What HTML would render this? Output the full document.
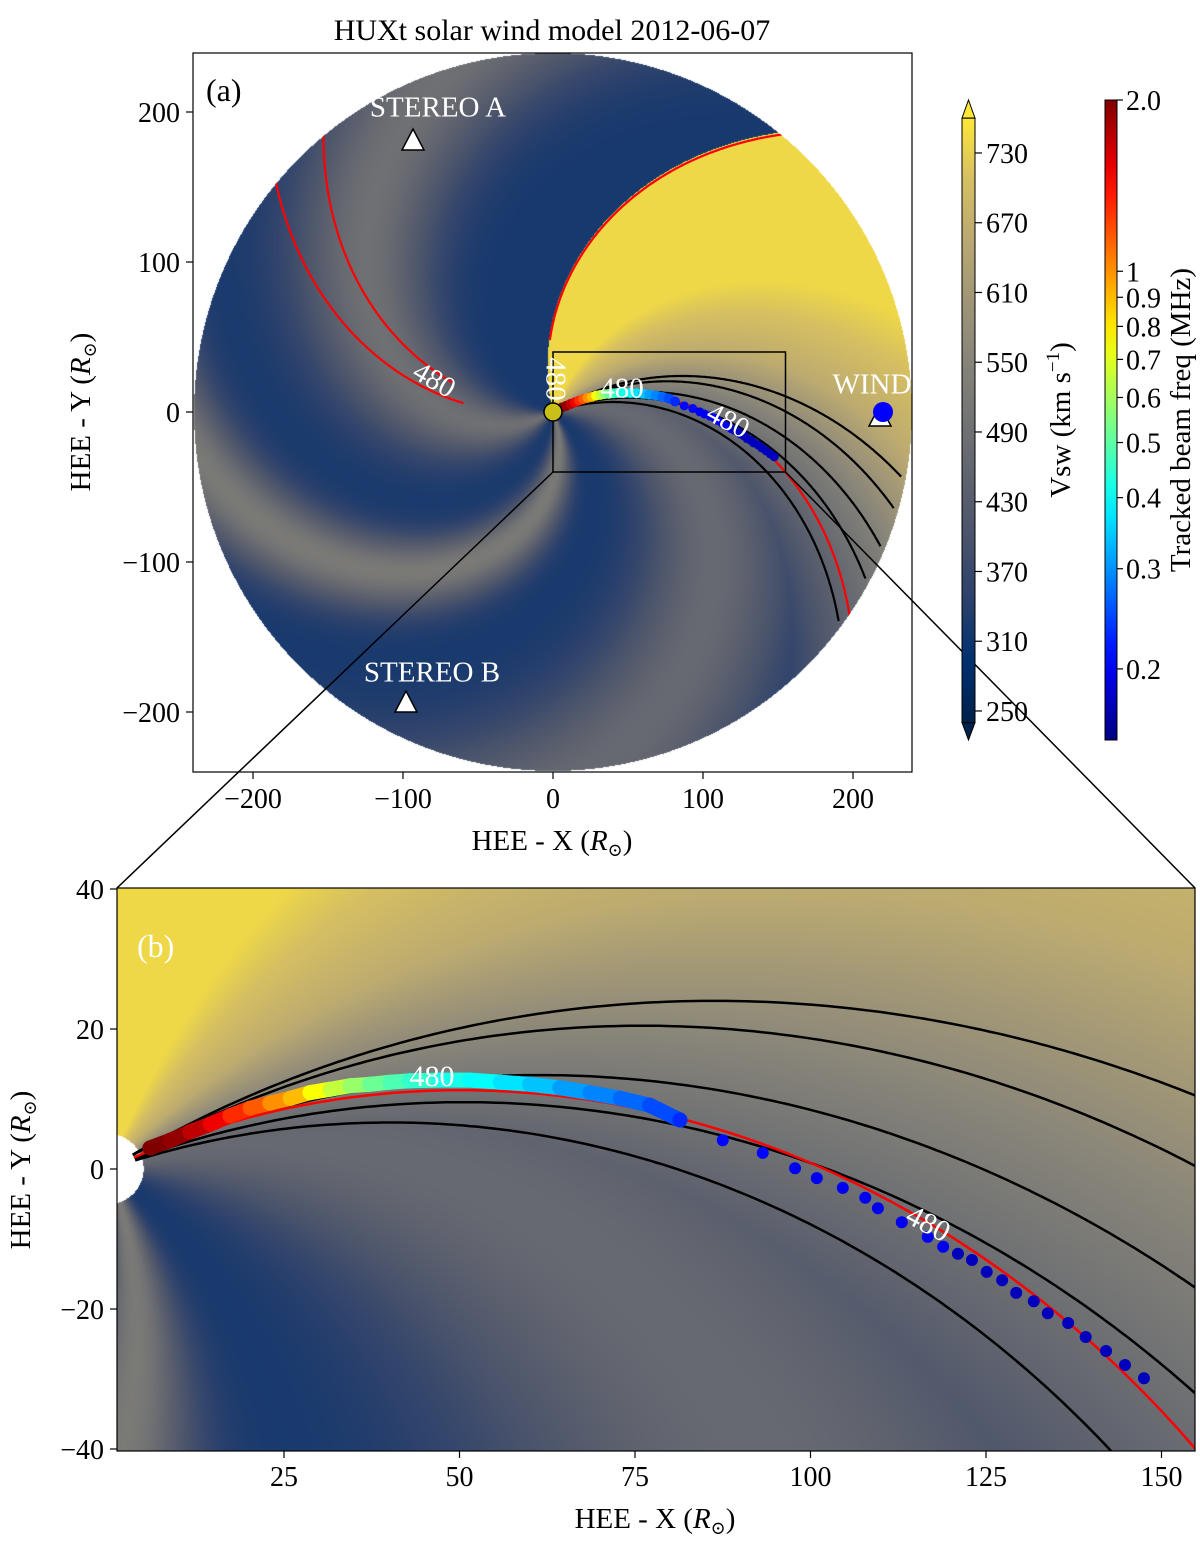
<!DOCTYPE html>
<html><head><meta charset="utf-8">
<style>
html,body{margin:0;padding:0;background:#fff;overflow:hidden;width:1200px;height:1560px;}
#wrap{position:relative;width:1200px;height:1560px;overflow:hidden;font-family:"Liberation Serif",serif;}
canvas{position:absolute;}
svg{position:absolute;left:0;top:0;}
text{font-family:"Liberation Serif","DejaVu Serif",serif;}
</style></head>
<body>
<div id="wrap">
<canvas id="c1" width="720" height="720" style="left:193px;top:53px"></canvas>
<canvas id="c2" width="1078" height="563" style="left:117px;top:888px"></canvas>
<svg id="s" width="1200" height="1560" xmlns="http://www.w3.org/2000/svg">
<defs>
<clipPath id="circ"><circle cx="553" cy="412" r="359"/></clipPath>
<clipPath id="box2"><rect x="117" y="888" width="1078" height="563"/></clipPath>
<linearGradient id="g1" x1="0" y1="1" x2="0" y2="0"></linearGradient>
<linearGradient id="g2" x1="0" y1="1" x2="0" y2="0"></linearGradient>
</defs>
<g id="topPanel"></g>
<g id="botPanel"></g>
<g id="cb"></g>
</svg>
</div>
<script>
// ---------- data ----------
const xTicksTop=[-200,-100,0,100,200];
const yTicksTop=[200,100,0,-100,-200];
const xTicksBot=[25,50,75,100,125,150];
const yTicksBot=[40,20,0,-20,-40];
const speedTicks=[730,670,610,550,490,430,370,310,250];
const freqTicks=[2.0,1,0.9,0.8,0.7,0.6,0.5,0.4,0.3,0.2];
const freqTickLabels=["2.0","1","0.9","0.8","0.7","0.6","0.5","0.4","0.3","0.2"];
const blackPhi0=[31.5,30.5,24.9,21.5,18.9];
const blackK=[0.178,0.196,0.2,0.21,0.2335];
const redPhi0=[25.5,103,185.7,177.6];
const redK=[0.25,0.219,0.189,0.2];
const redRmin=[4,48,60,70];
const redRmax=[240,240,240,240];
const beamX=[5.9,8.8,11.6,14.5,17.3,20.2,23.0,25.9,28.7,31.6,34.4,37.2,40.1,42.9,47.2,51.5,55.8,60.0,64.3,68.6,72.9,77.1,81.4,87.5,93.2,97.8,100.9,104.6,107.8,109.6,113.0,116.7,118.9,121.0,123.0,125.1,127.3,129.3,131.8,133.8,136.7,139.2,142.1,144.8,147.5];
const beamY=[3.0,4.1,5.3,6.4,7.6,8.7,9.4,10.1,10.9,11.4,11.9,12.1,12.4,12.6,12.7,12.7,12.4,12.1,11.6,10.9,10.1,9.1,7.0,4.1,2.3,0.1,-1.3,-2.7,-4.1,-5.6,-7.6,-9.7,-11.1,-12.1,-13.0,-14.7,-15.9,-17.7,-18.9,-20.6,-22.0,-24.0,-26.0,-28.0,-29.9];
const beamF=[2.0,1.9,1.7,1.5,1.3,1.15,1.0,0.9,0.75,0.65,0.58,0.52,0.48,0.45,0.42,0.40,0.37,0.34,0.31,0.29,0.27,0.25,0.23,0.21,0.21,0.2,0.2,0.2,0.2,0.2,0.2,0.2,0.2,0.175,0.175,0.175,0.175,0.175,0.175,0.175,0.175,0.175,0.175,0.175,0.175];
const DENSE=23;
const fastLon=[0,15,30,45,68,103];
const fastV=[330,440,545,660,740,740];
const slowCenters=[210,290,20];
const slowWidths=[18,10,20];
const slowAmps=[170,200,150];

// ---------- scales ----------
const X1=x=>553+1.5*x, Y1=y=>412-1.5*y;
const X2=x=>108.5+7.02*x, Y2=y=>1169-7.0*y;
const VMIN=240,VMAX=760;
const Yc1=v=>722.6-(v-VMIN)*1.1625;
const FMIN=0.15,FMAX=2.0;
const Yc2=f=>740-(Math.log(f)-Math.log(FMIN))/(Math.log(FMAX)-Math.log(FMIN))*640;

const cstops=[[0,0,32,77],[0.1,0,48,111],[0.2,42,64,108],[0.3,72,82,107],[0.4,94,98,110],[0.5,114,115,116],[0.6,135,132,121],[0.7,160,150,119],[0.8,186,169,113],[0.9,214,191,98],[1,253,231,55]];
function cividis(t){t=Math.max(0,Math.min(1,t));for(let i=1;i<cstops.length;i++){if(t<=cstops[i][0]){const a=cstops[i-1],b=cstops[i],u=(t-a[0])/(b[0]-a[0]);return [a[1]+(b[1]-a[1])*u,a[2]+(b[2]-a[2])*u,a[3]+(b[3]-a[3])*u];}}return cstops[cstops.length-1].slice(1);}
function jet(t){const c=v=>Math.max(0,Math.min(1,v));return [c(1.5-Math.abs(4*t-3))*255,c(1.5-Math.abs(4*t-2))*255,c(1.5-Math.abs(4*t-1))*255];}
const fnorm=f=>(Math.log(f)-Math.log(FMIN))/(Math.log(FMAX)-Math.log(FMIN));
const rgb=a=>`rgb(${a.map(v=>Math.round(v)).join(',')})`;

function angWrap(a){a=((a%360)+360)%360;return a>180?a-360:a;}
function speed(x,y){
  const r=Math.hypot(x,y), phi=Math.atan2(y,x)*180/Math.PI;
  const psi=phi+0.43*r;
  let s=320;
  for(let i=0;i<slowCenters.length;i++){const d=angWrap(psi-slowCenters[i]);s+=slowAmps[i]*Math.exp(-0.5*(d/slowWidths[i])**2);}
  let p0=angWrap(phi+0.219*r), f=0;
  if(p0>=fastLon[0]&&p0<=fastLon[fastLon.length-1]+0.5){
    f=fastV[fastV.length-1];
    for(let i=1;i<fastLon.length;i++){if(p0<=fastLon[i]){const u=(p0-fastLon[i-1])/(fastLon[i]-fastLon[i-1]);f=fastV[i-1]+(fastV[i]-fastV[i-1])*u;break;}}
  }
  return Math.max(s,f);
}
function paint(id,w,h,toData,inside){
  const cv=document.getElementById(id),ctx=cv.getContext('2d'),img=ctx.createImageData(w,h),d=img.data;
  for(let j=0;j<h;j++)for(let i=0;i<w;i++){
    const p=toData(i+0.5,j+0.5);const k=(j*w+i)*4;
    if(!inside(p[0],p[1])){d[k]=255;d[k+1]=255;d[k+2]=255;d[k+3]=255;continue;}
    const c=cividis((speed(p[0],p[1])-VMIN)/(VMAX-VMIN));
    d[k]=c[0];d[k+1]=c[1];d[k+2]=c[2];d[k+3]=255;
  }
  ctx.putImageData(img,0,0);
}
paint('c1',720,720,(i,j)=>[(i+193-553)/1.5,(412-(j+53))/1.5],(x,y)=>Math.hypot(x,y)<=239.3);
paint('c2',1078,563,(i,j)=>[(i+117-108.5)/7.02,(1169-(j+888))/7.0],(x,y)=>Math.hypot(x,y)>5);

// ---------- svg helpers ----------
const NS="http://www.w3.org/2000/svg";
function el(tag,attrs,parent,txt){const e=document.createElementNS(NS,tag);for(const k in attrs)e.setAttribute(k,attrs[k]);if(txt!==undefined)e.textContent=txt;parent.appendChild(e);return e;}
function spiral(phi0,k,r0,r1,X,Y){let pts=[];for(let r=r0;r<=r1+1e-9;r+=1){const a=(phi0-k*r)*Math.PI/180;pts.push(X(r*Math.cos(a)).toFixed(1)+','+Y(r*Math.sin(a)).toFixed(1));}return pts.join(' ');}
function rtxt(parent,x,y,rot,str,size,fill,name){const t=el('text',{x:x,y:y,'font-size':size,fill:fill,'text-anchor':'middle','dominant-baseline':'middle',transform:`rotate(${rot} ${x} ${y})`},parent,str);


return t;}
function drawBeam(parent,X,Y,bandW,rDense,rSparse){
  for(let i=0;i<DENSE-1;i++){
    const s=el('line',{x1:X(beamX[i]),y1:Y(beamY[i]),x2:X(beamX[i+1]),y2:Y(beamY[i+1]),stroke:rgb(jet(fnorm(beamF[i]))),'stroke-width':bandW,'stroke-linecap':'round'},parent);
    
    
  }
  for(let i=0;i<beamX.length;i++){
    const c=el('circle',{cx:X(beamX[i]),cy:Y(beamY[i]),r:i<DENSE?rDense:rSparse,fill:rgb(jet(fnorm(beamF[i])))},parent);
    
    
  }
}

// ---------- top panel ----------
const topG=document.getElementById('topPanel');
const tl=el('g',{'clip-path':'url(#circ)'},topG);


for(let i=0;i<blackPhi0.length;i++){
  const p=el('polyline',{points:spiral(blackPhi0[i],blackK[i],3,236,X1,Y1),fill:'none',stroke:'#000','stroke-width':2.2},tl);
  
  
}
for(let i=0;i<redPhi0.length;i++){
  const p=el('polyline',{points:spiral(redPhi0[i],redK[i],redRmin[i],redRmax[i],X1,Y1),fill:'none',stroke:'#ff0000','stroke-width':2.2},tl);
  
  
}
drawBeam(topG,X1,Y1,9,5,4.5);
const fr=el('rect',{x:193,y:53,width:719,height:719,fill:'none',stroke:'#000','stroke-width':1.2},topG);


const inset=el('rect',{x:X1(0),y:Y1(40),width:X1(155)-X1(0),height:Y1(-40)-Y1(40),fill:'none',stroke:'#000','stroke-width':1.5},topG);


const zl1=el('line',{x1:X1(0),y1:Y1(-40),x2:117,y2:888,stroke:'#000','stroke-width':1.5},topG);


const zl2=el('line',{x1:X1(155),y1:Y1(-40),x2:1195,y2:888,stroke:'#000','stroke-width':1.5},topG);


const sun=el('circle',{cx:X1(0),cy:Y1(0),r:9,fill:'#c9c017',stroke:'#000','stroke-width':1.5},topG);


function tri(cx,cy,name){const p=el('polygon',{points:`${cx},${cy-12} ${cx-11},${cy+9} ${cx+11},${cy+9}`,fill:'#fff',stroke:'#000','stroke-width':1.5},topG);

}
tri(413,141,'stereo-a-marker');
tri(406,703,'stereo-b-marker');
tri(880,417,'earth-marker');
const wd=el('circle',{cx:883,cy:412,r:10,fill:'#0000ff'},topG);


rtxt(topG,438,110,0,'STEREO A',29,'#fff','stereo-a-label');
rtxt(topG,432,675,0,'STEREO B',29,'#fff','stereo-b-label');
rtxt(topG,872,387,0,'WIND',29,'#fff','wind-label');
rtxt(topG,433,382,30,'480',29,'#fff','contour-label');
rtxt(topG,553,379,90,'480',29,'#fff','contour-label');
rtxt(topG,622,391,0,'480',29,'#fff','contour-label');
rtxt(topG,727,423,28,'480',29,'#fff','contour-label');
const pa=el('text',{x:206,y:101,'font-size':32,fill:'#000'},topG,'(a)');


const ttl=el('text',{x:552,y:40,'font-size':30,fill:'#000','text-anchor':'middle'},topG,'HUXt solar wind model 2012-06-07');


xTicksTop.forEach(v=>{el('line',{x1:X1(v),y1:772,x2:X1(v),y2:779,stroke:'#000','stroke-width':1.2},topG);const t=el('text',{x:X1(v),y:808,'font-size':28,'text-anchor':'middle'},topG,v<0?'\u2212'+(-v):String(v));

});
yTicksTop.forEach(v=>{el('line',{x1:186,y1:Y1(v),x2:193,y2:Y1(v),stroke:'#000','stroke-width':1.2},topG);const t=el('text',{x:180,y:Y1(v)+10,'font-size':28,'text-anchor':'end'},topG,v<0?'\u2212'+(-v):String(v));

});
function axLabel(parent,x,y,rot,prefix,name){const t=el('text',{x:x,y:y,'font-size':29,'text-anchor':'middle',transform:`rotate(${rot} ${x} ${y})`},parent);


 el('tspan',{},t,prefix+' (');el('tspan',{'font-style':'italic'},t,'R');el('tspan',{'font-size':18,dy:6},t,'\u2299');el('tspan',{dy:-6},t,')');}
axLabel(topG,552,850,0,'HEE - X','x-axis-title-top');
axLabel(topG,90,412,-90,'HEE - Y','y-axis-title-top');

// ---------- bottom panel ----------
const botG=document.getElementById('botPanel');
const bl=el('g',{'clip-path':'url(#box2)'},botG);


for(let i=0;i<blackPhi0.length;i++){
  const p=el('polyline',{points:spiral(blackPhi0[i],blackK[i],4,200,X2,Y2),fill:'none',stroke:'#000','stroke-width':2.5},bl);
  
  
}
const rp=el('polyline',{points:spiral(redPhi0[0],redK[0],4,200,X2,Y2),fill:'none',stroke:'#ff0000','stroke-width':2.5},bl);


drawBeam(bl,X2,Y2,15,7.5,6);
rtxt(botG,432,1079,0,'480',30,'#fff','contour-label');
rtxt(botG,927,1226,28,'480',30,'#fff','contour-label');
const pb=el('text',{x:137,y:957,'font-size':32,fill:'#fff'},botG,'(b)');


const fr2=el('rect',{x:117,y:888,width:1078,height:563,fill:'none',stroke:'#000','stroke-width':1.2},botG);


xTicksBot.forEach(v=>{el('line',{x1:X2(v),y1:1451,x2:X2(v),y2:1458,stroke:'#000','stroke-width':1.2},botG);const t=el('text',{x:X2(v),y:1486,'font-size':28,'text-anchor':'middle'},botG,String(v));

});
yTicksBot.forEach(v=>{el('line',{x1:110,y1:Y2(v),x2:117,y2:Y2(v),stroke:'#000','stroke-width':1.2},botG);const t=el('text',{x:104,y:Y2(v)+10,'font-size':28,'text-anchor':'end'},botG,v<0?'\u2212'+(-v):String(v));

});
axLabel(botG,655,1528,0,'HEE - X','x-axis-title-bottom');
axLabel(botG,30,1170,-90,'HEE - Y','y-axis-title-bottom');

// ---------- colorbars ----------
const cb=document.getElementById('cb');
const g1=document.getElementById('g1'),g2=document.getElementById('g2');
for(let i=0;i<=20;i++){el('stop',{offset:i/20,'stop-color':rgb(cividis(i/20))},g1);el('stop',{offset:i/20,'stop-color':rgb(jet(i/20))},g2);}
const cbr=el('rect',{x:962,y:Yc1(VMAX),width:13,height:Yc1(VMIN)-Yc1(VMAX),fill:'url(#g1)'},cb);


const ext1=el('polygon',{points:`962,${Yc1(VMAX)} 975,${Yc1(VMAX)} 968.5,100`,fill:rgb(cividis(1)),stroke:'#000','stroke-width':1},cb);


const ext2=el('polygon',{points:`962,${Yc1(VMIN)} 975,${Yc1(VMIN)} 968.5,740`,fill:rgb(cividis(0)),stroke:'#000','stroke-width':1},cb);


el('rect',{x:962,y:Yc1(VMAX),width:13,height:Yc1(VMIN)-Yc1(VMAX),fill:'none',stroke:'#000','stroke-width':1},cb);
speedTicks.forEach(v=>{el('line',{x1:975,y1:Yc1(v),x2:982,y2:Yc1(v),stroke:'#000','stroke-width':1.2},cb);const t=el('text',{x:986,y:Yc1(v)+10,'font-size':28},cb,String(v));

});
const vl=el('text',{x:1070,y:420,'font-size':29,'text-anchor':'middle',transform:'rotate(-90 1070 420)'},cb);


el('tspan',{},vl,'Vsw (km s');el('tspan',{'font-size':19,dy:-11},vl,'\u22121');el('tspan',{dy:11},vl,')');
const cbr2=el('rect',{x:1105,y:100,width:12,height:640,fill:'url(#g2)',stroke:'#000','stroke-width':1},cb);


freqTicks.forEach((v,i)=>{el('line',{x1:1117,y1:Yc2(v),x2:1123,y2:Yc2(v),stroke:'#000','stroke-width':1.2},cb);const t=el('text',{x:1126,y:Yc2(v)+10,'font-size':28},cb,freqTickLabels[i]);

});
const fl=el('text',{x:1190,y:420,'font-size':29,'text-anchor':'middle',transform:'rotate(-90 1190 420)'},cb,'Tracked beam freq (MHz)');


</script>
</body></html>
